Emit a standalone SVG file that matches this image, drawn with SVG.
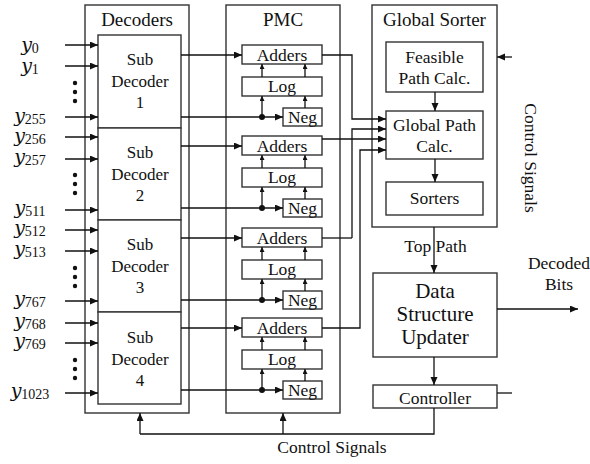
<svg xmlns="http://www.w3.org/2000/svg" width="590" height="464" viewBox="0 0 590 464">
  <style>
    .box { fill: #fff; stroke: #333; stroke-width: 1.4; }
    .ln { fill: none; stroke: #111; stroke-width: 1.3; }
    .t { font-family: 'Liberation Serif', serif; fill: #111; text-anchor: middle; }
    .title { font-size: 19px; }
    .sub { font-size: 17px; }
    .blk { font-size: 17.5px; }
    .big { font-size: 21px; }
    .v { font-family: 'DejaVu Serif', serif; font-style: italic; font-size: 19px; }
    .n { font-family: 'Liberation Serif', serif; font-size: 14px; }
    .dot { fill: #111; }
  </style>
  <defs>
    <marker id="arr" markerUnits="userSpaceOnUse" markerWidth="9" markerHeight="8" refX="8" refY="3.5" orient="auto">
      <path d="M0,0 L8,3.5 L0,7 z" fill="#111"/>
    </marker>
    <marker id="arrs" markerUnits="userSpaceOnUse" markerWidth="6" markerHeight="6" refX="5" refY="2.5" orient="auto">
      <path d="M0,0 L5,2.5 L0,5 z" fill="#111"/>
    </marker>
  </defs>

  <!-- input labels -->
  <g id="inputs">
    <text class="t" x="30" y="51"><tspan class="v">y</tspan><tspan class="n" dy="2">0</tspan></text>
    <text class="t" x="30" y="72"><tspan class="v">y</tspan><tspan class="n" dy="2">1</tspan></text>
    <text class="t" x="30" y="122"><tspan class="v">y</tspan><tspan class="n" dy="2">255</tspan></text>
    <text class="t" x="30" y="142"><tspan class="v">y</tspan><tspan class="n" dy="2">256</tspan></text>
    <text class="t" x="30" y="163"><tspan class="v">y</tspan><tspan class="n" dy="2">257</tspan></text>
    <text class="t" x="30" y="214"><tspan class="v">y</tspan><tspan class="n" dy="2">511</tspan></text>
    <text class="t" x="30" y="234"><tspan class="v">y</tspan><tspan class="n" dy="2">512</tspan></text>
    <text class="t" x="30" y="255"><tspan class="v">y</tspan><tspan class="n" dy="2">513</tspan></text>
    <text class="t" x="30" y="305"><tspan class="v">y</tspan><tspan class="n" dy="2">767</tspan></text>
    <text class="t" x="30" y="327"><tspan class="v">y</tspan><tspan class="n" dy="2">768</tspan></text>
    <text class="t" x="30" y="347"><tspan class="v">y</tspan><tspan class="n" dy="2">769</tspan></text>
    <text class="t" x="30" y="397"><tspan class="v">y</tspan><tspan class="n" dy="2">1023</tspan></text>
    <!-- vertical ellipses -->
    <circle class="dot" cx="75" cy="83" r="2.2"/><circle class="dot" cx="75" cy="92" r="2.2"/><circle class="dot" cx="75" cy="101" r="2.2"/>
    <circle class="dot" cx="75" cy="175" r="2.2"/><circle class="dot" cx="75" cy="184" r="2.2"/><circle class="dot" cx="75" cy="193" r="2.2"/>
    <circle class="dot" cx="75" cy="268" r="2.2"/><circle class="dot" cx="75" cy="277" r="2.2"/><circle class="dot" cx="75" cy="286" r="2.2"/>
    <circle class="dot" cx="75" cy="360" r="2.2"/><circle class="dot" cx="75" cy="369" r="2.2"/><circle class="dot" cx="75" cy="378" r="2.2"/>
  </g>

  <!-- Decoders -->
  <g id="decoders">
    <rect class="box" x="85" y="5" width="104" height="408"/>
    <text class="t title" x="137" y="26">Decoders</text>
  </g>
  <g id="subdec1">
    <rect class="box" x="98" y="35" width="83" height="93"/>
    <text class="t sub" x="140" y="65">Sub</text>
    <text class="t sub" x="140" y="87">Decoder</text>
    <text class="t sub" x="140" y="108">1</text>
  </g>
  <g id="subdec2">
    <rect class="box" x="98" y="128" width="83" height="92"/>
    <text class="t sub" x="140" y="158">Sub</text>
    <text class="t sub" x="140" y="180">Decoder</text>
    <text class="t sub" x="140" y="201">2</text>
  </g>
  <g id="subdec3">
    <rect class="box" x="98" y="220" width="83" height="92"/>
    <text class="t sub" x="140" y="250">Sub</text>
    <text class="t sub" x="140" y="272">Decoder</text>
    <text class="t sub" x="140" y="293">3</text>
  </g>
  <g id="subdec4">
    <rect class="box" x="98" y="312" width="83" height="92"/>
    <text class="t sub" x="140" y="343">Sub</text>
    <text class="t sub" x="140" y="365">Decoder</text>
    <text class="t sub" x="140" y="386">4</text>
  </g>

  <!-- PMC -->
  <g id="pmc">
    <rect class="box" x="226" y="5" width="114" height="408"/>
    <text class="t title" x="283" y="26">PMC</text>
  </g>
  <g id="pmc1">
    <rect class="box" x="242" y="45" width="80" height="19"/>
    <text class="t blk" x="282" y="61">Adders</text>
    <rect class="box" x="242" y="77" width="80" height="19"/>
    <text class="t blk" x="282" y="92">Log</text>
    <rect class="box" x="283" y="108" width="39" height="18"/>
    <text class="t blk" x="302.5" y="123">Neg</text>
  </g>
  <g id="pmc2">
    <rect class="box" x="242" y="136" width="80" height="19"/>
    <text class="t blk" x="282" y="152">Adders</text>
    <rect class="box" x="242" y="168" width="80" height="19"/>
    <text class="t blk" x="282" y="183">Log</text>
    <rect class="box" x="283" y="199" width="39" height="18"/>
    <text class="t blk" x="302.5" y="214">Neg</text>
  </g>
  <g id="pmc3">
    <rect class="box" x="242" y="228" width="80" height="19"/>
    <text class="t blk" x="282" y="244">Adders</text>
    <rect class="box" x="242" y="260" width="80" height="19"/>
    <text class="t blk" x="282" y="275">Log</text>
    <rect class="box" x="283" y="291" width="39" height="18"/>
    <text class="t blk" x="302.5" y="306">Neg</text>
  </g>
  <g id="pmc4">
    <rect class="box" x="242" y="318" width="80" height="19"/>
    <text class="t blk" x="282" y="334">Adders</text>
    <rect class="box" x="242" y="350" width="80" height="19"/>
    <text class="t blk" x="282" y="365">Log</text>
    <rect class="box" x="283" y="381" width="39" height="18"/>
    <text class="t blk" x="302.5" y="396">Neg</text>
  </g>

  <!-- Global Sorter -->
  <g id="global-sorter">
    <rect class="box" x="372" y="5" width="125" height="222"/>
    <text class="t title" x="434.5" y="26">Global Sorter</text>
  </g>
  <g id="feasible">
    <rect class="box" x="386" y="42" width="97" height="50"/>
    <text class="t blk" x="434.5" y="63">Feasible</text>
    <text class="t blk" x="434.5" y="84">Path Calc.</text>
  </g>
  <g id="global-path">
    <rect class="box" x="386" y="111" width="97" height="48"/>
    <text class="t blk" x="434.5" y="131">Global Path</text>
    <text class="t blk" x="434.5" y="152">Calc.</text>
  </g>
  <g id="sorters">
    <rect class="box" x="386" y="182" width="97" height="33"/>
    <text class="t blk" x="434.5" y="204">Sorters</text>
  </g>

  <g id="updater">
    <rect class="box" x="373" y="273" width="124" height="84"/>
    <text class="t big" x="435" y="298">Data</text>
    <text class="t big" x="435" y="321">Structure</text>
    <text class="t big" x="435" y="344">Updater</text>
  </g>
  <g id="controller">
    <rect class="box" x="373" y="385" width="124" height="23"/>
    <text class="t blk" x="435" y="404">Controller</text>
  </g>

  <!-- connectors -->
  <g id="connectors">
    <!-- channel inputs -->
    <path class="ln" marker-end="url(#arr)" d="M65,45 H98"/>
    <path class="ln" marker-end="url(#arr)" d="M65,66 H98"/>
    <path class="ln" marker-end="url(#arr)" d="M65,117 H98"/>
    <path class="ln" marker-end="url(#arr)" d="M65,137 H98"/>
    <path class="ln" marker-end="url(#arr)" d="M65,159 H98"/>
    <path class="ln" marker-end="url(#arr)" d="M65,210 H98"/>
    <path class="ln" marker-end="url(#arr)" d="M65,230 H98"/>
    <path class="ln" marker-end="url(#arr)" d="M65,251 H98"/>
    <path class="ln" marker-end="url(#arr)" d="M65,301 H98"/>
    <path class="ln" marker-end="url(#arr)" d="M65,323 H98"/>
    <path class="ln" marker-end="url(#arr)" d="M65,343 H98"/>
    <path class="ln" marker-end="url(#arr)" d="M65,393 H98"/>

    <!-- sub decoders into PMC units -->
    <path class="ln" marker-end="url(#arr)" d="M181,55 H242"/>
    <path class="ln" marker-end="url(#arr)" d="M181,117 H283"/>
    <path class="ln" marker-end="url(#arr)" d="M181,146 H242"/>
    <path class="ln" marker-end="url(#arr)" d="M181,208 H283"/>
    <path class="ln" marker-end="url(#arr)" d="M181,238 H242"/>
    <path class="ln" marker-end="url(#arr)" d="M181,300 H283"/>
    <path class="ln" marker-end="url(#arr)" d="M181,328 H242"/>
    <path class="ln" marker-end="url(#arr)" d="M181,390 H283"/>

    <!-- PMC internal paths -->
    <circle class="dot" cx="262" cy="117" r="3"/>
    <path class="ln" marker-end="url(#arrs)" d="M262,117 V96"/>
    <path class="ln" marker-end="url(#arrs)" d="M305,108 V96"/>
    <path class="ln" marker-end="url(#arrs)" d="M262,77 V64"/>
    <path class="ln" marker-end="url(#arrs)" d="M305,77 V64"/>

    <circle class="dot" cx="262" cy="208" r="3"/>
    <path class="ln" marker-end="url(#arrs)" d="M262,208 V187"/>
    <path class="ln" marker-end="url(#arrs)" d="M305,199 V187"/>
    <path class="ln" marker-end="url(#arrs)" d="M262,168 V155"/>
    <path class="ln" marker-end="url(#arrs)" d="M305,168 V155"/>

    <circle class="dot" cx="262" cy="300" r="3"/>
    <path class="ln" marker-end="url(#arrs)" d="M262,300 V279"/>
    <path class="ln" marker-end="url(#arrs)" d="M305,291 V279"/>
    <path class="ln" marker-end="url(#arrs)" d="M262,260 V247"/>
    <path class="ln" marker-end="url(#arrs)" d="M305,260 V247"/>

    <circle class="dot" cx="262" cy="390" r="3"/>
    <path class="ln" marker-end="url(#arrs)" d="M262,390 V369"/>
    <path class="ln" marker-end="url(#arrs)" d="M305,381 V369"/>
    <path class="ln" marker-end="url(#arrs)" d="M262,350 V337"/>
    <path class="ln" marker-end="url(#arrs)" d="M305,350 V337"/>

    <!-- adders to global path calc -->
    <path class="ln" marker-end="url(#arr)" d="M322,55 H352 V119 H386"/>
    <path class="ln" marker-end="url(#arr)" d="M352,238 V129 H386"/>
    <path class="ln" d="M322,238 H352"/>
    <path class="ln" marker-end="url(#arr)" d="M322,139 H386"/>
    <path class="ln" marker-end="url(#arr)" d="M322,328 H360 V150 H386"/>

    <!-- global sorter internals -->
    <path class="ln" marker-end="url(#arr)" d="M435,92 V111"/>
    <path class="ln" marker-end="url(#arr)" d="M435,159 V182"/>

    <!-- top path, updater, controller -->
    <path class="ln" marker-end="url(#arr)" d="M434,227 V273"/>
    <path class="ln" marker-end="url(#arr)" d="M434,357 V385"/>
    <path class="ln" marker-end="url(#arr)" d="M497,309 H578"/>

    <!-- control signals -->
    <path class="ln" d="M497,393 H512"/>
    <path class="ln" marker-end="url(#arr)" d="M512,57 H497"/>
    <path class="ln" d="M434,408 V434 H140"/>
    <path class="ln" marker-end="url(#arr)" d="M140,434 V413"/>
    <path class="ln" marker-end="url(#arr)" d="M283,434 V413"/>
  </g>

  <!-- connector labels -->
  <g id="labels">
    <text class="t blk" x="435.5" y="252">Top Path</text>
    <text class="t blk" x="559" y="269">Decoded</text>
    <text class="t blk" x="559" y="290">Bits</text>
    <text class="t blk" x="332" y="453">Control Signals</text>
    <text class="t blk" transform="translate(525,158) rotate(90)" x="0" y="0">Control Signals</text>
  </g>
</svg>
